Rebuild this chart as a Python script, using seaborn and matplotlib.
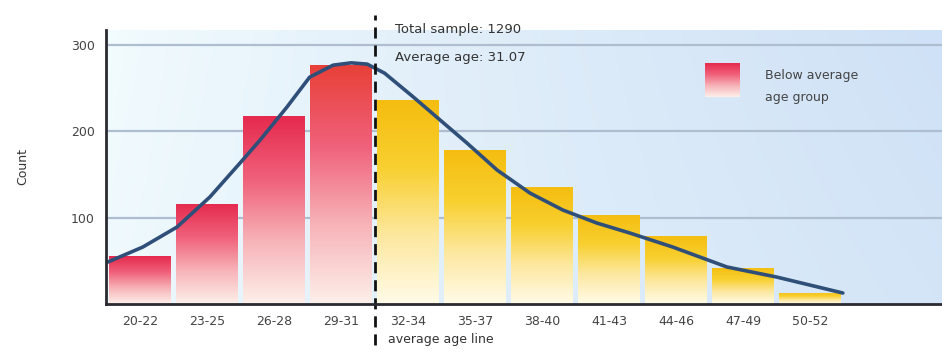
import numpy as np
import pandas as pd
import matplotlib
matplotlib.use("Agg")
import matplotlib.pyplot as plt
import seaborn as sns
from matplotlib.colors import LinearSegmentedColormap, to_rgb
from matplotlib.transforms import blended_transform_factory

# Age groups and the number of respondents in each
age_groups = ["20-22", "23-25", "26-28", "29-31", "32-34", "35-37",
              "38-40", "41-43", "44-46", "47-49", "50-52"]
counts = [55, 116, 217, 276, 236, 178, 135, 103, 79, 42, 13]

# Fitted density curve, sampled along the category axis
curve_x = [-0.48, 0.04, 0.55, 1.04, 1.49, 1.79, 2.19, 2.53, 2.88, 3.15, 3.39,
           3.65, 4.07, 4.48, 4.88, 5.33, 5.82, 6.31, 6.82, 7.31, 7.95, 8.76,
           9.50, 10.49]
curve_y = [48.6, 65.9, 89.0, 123.7, 163.0, 189.6, 227.7, 262.4, 276.3, 279.0,
           277.5, 267.0, 240.0, 212.7, 186.1, 154.9, 128.3, 108.7, 93.6, 82.1,
           65.9, 42.8, 31.2, 12.7]

y_ticks = [100, 200, 300]
total_sample = 1290
average_age = 31.07
split_after = 3  # last age group drawn in the "below average" colour

sns.set_theme(style="white")
plt.rcParams["font.family"] = ["DejaVu Sans"]

fig = plt.figure(figsize=(9.42, 3.55), dpi=100)
fig.patch.set_facecolor("white")
ax = fig.add_axes([0.1125, 0.1437, 0.8875, 0.7718])

df = pd.DataFrame({"group": age_groups, "count": counts})
sns.barplot(data=df, x="group", y="count", ax=ax, width=0.92,
            color="white", edgecolor="none", saturation=1, zorder=2)

XLIM = (-0.51, 11.97)
YLIM = (0, 317)

# soft blue background gradient inside the plot area
h, w = 200, 400
xx = np.linspace(0, 1, w)[None, :]
yy = np.linspace(0, 1, h)[:, None]
c_left = np.array(to_rgb("#f3fcfe"))
c_right = np.array(to_rgb("#cfe1f6"))
c_low = np.array(to_rgb("#e2f1fb"))
mix = xx ** 0.8
bg = c_left[None, None, :] * (1 - mix[..., None]) + c_right[None, None, :] * mix[..., None]
bg = bg * (1 - 0.25 * yy[..., None]) + c_low[None, None, :] * 0.25 * yy[..., None]
ax.imshow(bg, extent=[*XLIM, *YLIM], origin="upper", aspect="auto", zorder=0)

# gradient fill for each bar
red_cmap = LinearSegmentedColormap.from_list("red", ["#fdf0ea", "#f7b3b8", "#f0607a", "#e52a4e"])
red_peak = LinearSegmentedColormap.from_list("redpk", ["#fdf0ea", "#f7b3b8", "#f0607a", "#e84038"])
yel_cmap = LinearSegmentedColormap.from_list("yel", ["#fffbe8", "#fde8a0", "#f8d030", "#f5bd10"])
grad = np.linspace(0, 1, 256)[:, None]
for i, patch in enumerate(ax.patches):
    x0, y0 = patch.get_x(), patch.get_y()
    pw, ph = patch.get_width(), patch.get_height()
    if i <= split_after:
        cmap = red_peak if i == split_after else red_cmap
    else:
        cmap = yel_cmap
    im = ax.imshow(grad, cmap=cmap, extent=[x0, x0 + pw, y0, y0 + ph],
                   origin="lower", aspect="auto", zorder=2)
    im.set_clip_path(patch)
    patch.set_facecolor("none")

ax.set_xlim(*XLIM)
ax.set_ylim(*YLIM)

# grid
for t in y_ticks:
    ax.axhline(t, color="#aebdd0", lw=1.6, zorder=1)

# density curve
sns.lineplot(x=curve_x, y=curve_y, ax=ax, color="#2f4f78", lw=2.6,
             sort=False, estimator=None, zorder=4)

# split line between groups
split_x = split_after + 0.5
trans = blended_transform_factory(ax.transData, ax.transAxes)
ax.plot([split_x, split_x], [-0.15, 1.055], transform=trans, color="#111111",
        lw=2, ls=(0, (4, 2.5)), clip_on=False, zorder=5)
ax.text(split_x + 0.3, 1.0, f"Total sample: {total_sample}", transform=trans,
        fontsize=9.5, color="#333333", va="center", ha="left")
ax.text(split_x + 0.3, 0.9, f"Average age: {average_age:.2f}", transform=trans,
        fontsize=9.5, color="#333333", va="center", ha="left")
ax.text(split_x + 0.2, -0.13, "average age line", transform=trans,
        fontsize=9, color="#333333", va="center", ha="left")

# legend entry with gradient swatch
lax = fig.add_axes([705 / 942, 1 - 97 / 355, 35 / 942, 34 / 355])
lax.imshow(grad, cmap=red_cmap, origin="lower", aspect="auto")
lax.axis("off")
fig.text(765 / 942, 1 - 76 / 355, "Below average", fontsize=9, color="#444444", va="center")
fig.text(765 / 942, 1 - 98 / 355, "age group", fontsize=9, color="#444444", va="center")

# axes styling
ax.set_yticks(y_ticks)
ax.set_yticklabels([str(t) for t in y_ticks])
ax.set_xlabel("")
ax.set_ylabel("Count", fontsize=9, color="#333333", labelpad=30)
ax.tick_params(axis="x", labelsize=9, colors="#444444", length=0, pad=8)
ax.tick_params(axis="y", labelsize=9, colors="#444444", length=0, pad=8)
for side in ["top", "right"]:
    ax.spines[side].set_visible(False)
for side in ["left", "bottom"]:
    ax.spines[side].set_color("#2a2a30")
    ax.spines[side].set_linewidth(2)
    ax.spines[side].set_zorder(6)

fig.savefig("out.png", dpi=100)
